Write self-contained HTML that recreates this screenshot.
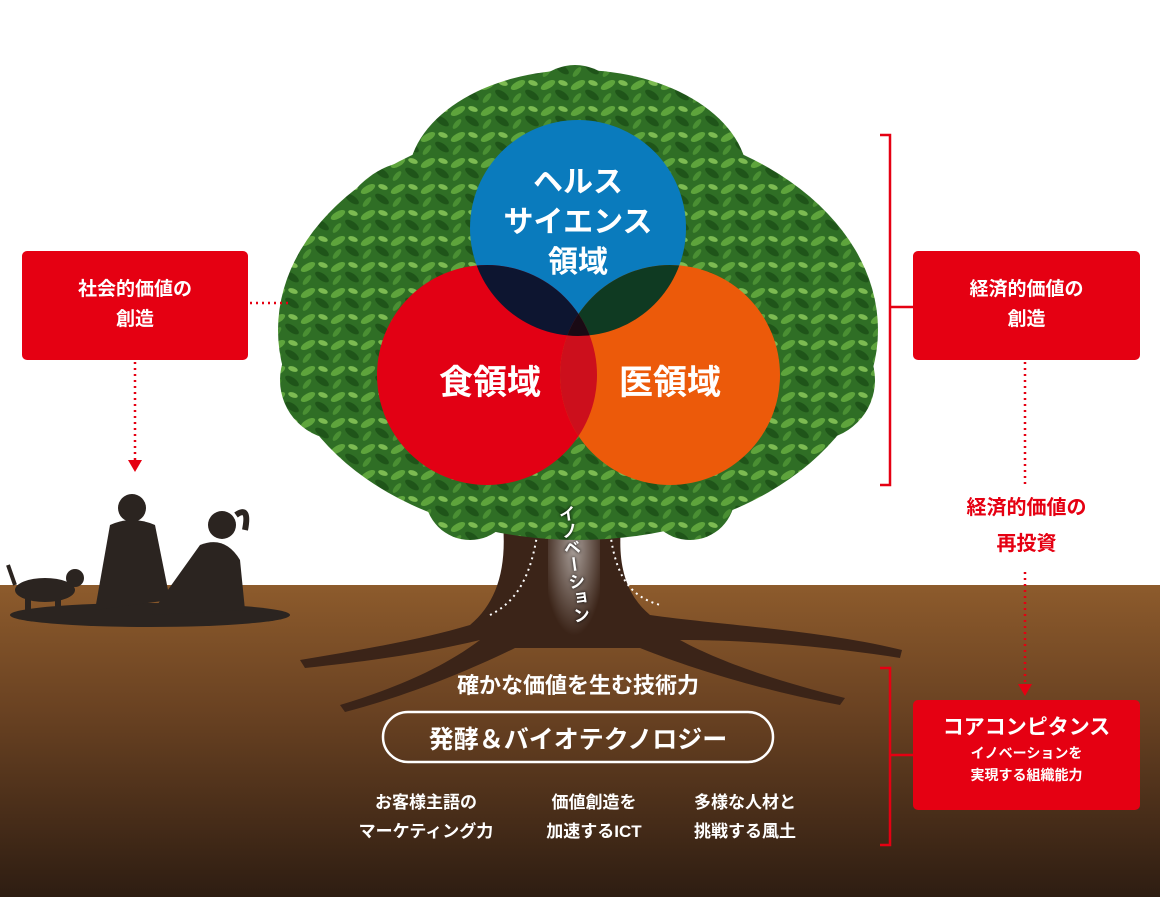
<!DOCTYPE html>
<html><head><meta charset="utf-8"><style>
body{margin:0;width:1160px;height:897px;overflow:hidden;background:#fff;font-family:"Liberation Sans","Noto Sans CJK JP",sans-serif;}
.abs{position:absolute}
.box{position:absolute;background:#e50012;border-radius:5px;color:#fff;font-weight:bold;text-align:center;}
.w{color:#fff;font-weight:bold;text-align:center;position:absolute}
</style></head><body>
<div class="abs" style="left:0;top:0;width:1160px;height:897px">
<svg width="1160" height="897" style="position:absolute;left:0;top:0">
<defs>
<linearGradient id="soil" x1="0" y1="0" x2="0" y2="1">
<stop offset="0" stop-color="#8d5b2c"/><stop offset="0.4" stop-color="#6a4222"/><stop offset="1" stop-color="#2e1d12"/>
</linearGradient>
<radialGradient id="glow" cx="0.5" cy="0.3" r="0.6"><stop offset="0" stop-color="#fff" stop-opacity="0.8"/><stop offset="1" stop-color="#fff" stop-opacity="0"/></radialGradient>
<pattern id="leaves" width="30" height="26" patternUnits="userSpaceOnUse">
<rect width="30" height="26" fill="#2f6e25"/>
<ellipse cx="8" cy="7" rx="8" ry="3.5" fill="#5ea43c" transform="rotate(-30 8 7)"/>
<ellipse cx="22" cy="17" rx="8" ry="3.5" fill="#1f5419" transform="rotate(35 22 17)"/>
<ellipse cx="23" cy="5" rx="5" ry="2.5" fill="#7dbb52" transform="rotate(20 23 5)"/>
<ellipse cx="7" cy="20" rx="6" ry="2.5" fill="#4a8f33" transform="rotate(-50 7 20)"/>
</pattern>
<clipPath id="cb"><circle cx="578" cy="228" r="108"/></clipPath>
<clipPath id="cr"><circle cx="487" cy="375" r="110"/></clipPath>
<clipPath id="co"><circle cx="670" cy="375" r="110"/></clipPath>
</defs>
<rect x="0" y="585" width="1160" height="312" fill="url(#soil)"/>
<path d="M500 500 C510 560 500 600 470 625 C420 640 360 650 300 660 L305 668 C380 660 430 652 480 640 C440 670 390 690 340 705 L345 712 C410 695 470 670 515 648 L640 648 C690 668 760 690 840 705 L845 698 C780 682 720 662 680 640 C740 640 820 645 900 658 L902 650 C820 630 720 625 650 615 C620 590 615 550 625 500 Z" fill="#3b2418"/>
<path d="M548 505 L600 505 L600 650 L548 650 Z" fill="url(#glow)" opacity="0.7"/>
<path d="M540 510 C535 570 520 600 490 615" stroke="#fff" stroke-width="2" stroke-dasharray="2 4" fill="none"/>
<path d="M608 510 C612 570 625 595 660 605" stroke="#fff" stroke-width="2" stroke-dasharray="2 4" fill="none"/>
<polygon points="548,505 541,520 555,520" fill="#fff"/>
<polygon points="604,505 597,520 611,520" fill="#fff"/>
<g fill="url(#leaves)">
<ellipse cx="578" cy="330" rx="300" ry="210"/>
<ellipse cx="578" cy="180" rx="170" ry="110"/>
<circle cx="575" cy="115" r="50"/>
<circle cx="420" cy="245" r="85"/>
<circle cx="730" cy="245" r="85"/>
<circle cx="340" cy="380" r="60"/>
<circle cx="815" cy="380" r="60"/>
<circle cx="470" cy="495" r="45"/>
<circle cx="690" cy="495" r="45"/>
</g>
<circle cx="578" cy="228" r="108" fill="#0a7bbd"/>
<circle cx="487" cy="375" r="110" fill="#e20014"/>
<circle cx="670" cy="375" r="110" fill="#ec5a0a"/>
<g clip-path="url(#cb)"><circle cx="487" cy="375" r="110" fill="#0d1530"/><circle cx="670" cy="375" r="110" fill="#0f3a22"/></g>
<g clip-path="url(#cr)"><circle cx="670" cy="375" r="110" fill="#cc0f1c"/><g clip-path="url(#cb)"><circle cx="670" cy="375" r="110" fill="#1a0a14"/></g></g>
<g fill="#2b2420">
<ellipse cx="150" cy="615" rx="140" ry="12"/>
<circle cx="132" cy="508" r="14"/>
<path d="M110 525 Q132 515 155 525 L170 600 L95 610 Z"/>
<circle cx="222" cy="525" r="14"/>
<path d="M236 515 Q250 505 245 530" stroke="#2b2420" stroke-width="6" fill="none"/>
<path d="M200 545 Q225 535 240 560 L245 610 L150 615 Z"/>
<ellipse cx="45" cy="590" rx="30" ry="12"/>
<circle cx="75" cy="578" r="9"/>
<rect x="25" y="590" width="6" height="25"/><rect x="55" y="590" width="6" height="25"/>
<path d="M15 585 L8 565" stroke="#2b2420" stroke-width="4"/>
</g>
<g stroke="#e50012" stroke-width="2.5" fill="none">
<path d="M880 135 H890 V485 H880"/>
<path d="M890 307 H913"/>
<path d="M880 668 H890 V845 H880"/>
<path d="M890 755 H913"/>
<path d="M250 303 H290" stroke-dasharray="2 4"/>
<path d="M135 362 V462" stroke-dasharray="2 4"/>
<path d="M1025 362 V485" stroke-dasharray="2 4"/>
<path d="M1025 572 V686" stroke-dasharray="2 4"/>
</g>
<polygon points="128,460 142,460 135,472" fill="#e50012"/>
<polygon points="1018,684 1032,684 1025,696" fill="#e50012"/>
<rect x="383" y="712" width="390" height="50" rx="25" fill="none" stroke="#fff" stroke-width="2.5"/>
</svg>
<div class="box" style="left:22px;top:251px;width:226px;height:109px;font-size:19px;line-height:30px;padding-top:24px;box-sizing:border-box">社会的価値の<br>創造</div>
<div class="box" style="left:913px;top:251px;width:227px;height:109px;font-size:19px;line-height:30px;padding-top:24px;box-sizing:border-box">経済的価値の<br>創造</div>
<div class="box" style="left:913px;top:700px;width:227px;height:110px;padding-top:14px;box-sizing:border-box"><div style="font-size:21px;line-height:28px">コアコンピタンス</div><div style="font-size:14px;line-height:22px">イノベーションを<br>実現する組織能力</div></div>
<div class="abs" style="left:913px;top:490px;width:227px;text-align:center;color:#e50012;font-weight:bold;font-size:20px;line-height:36px">経済的価値の<br>再投資</div>
<div class="w" style="left:470px;top:163px;width:216px;font-size:30px;line-height:40px">ヘルス<br>サイエンス<br>領域</div>
<div class="w" style="left:400px;top:355px;width:180px;font-size:34px">食領域</div>
<div class="w" style="left:580px;top:355px;width:180px;font-size:34px">医領域</div>
<div class="w" style="left:560px;top:505px;writing-mode:vertical-rl;font-size:17px;transform:rotate(-8deg);color:#fff;text-shadow:0 0 3px #000">イノベーション</div>
<div class="w" style="left:378px;top:668px;width:400px;font-size:22px">確かな価値を生む技術力</div>
<div class="w" style="left:383px;top:720px;width:390px;font-size:25px">発酵＆バイオテクノロジー</div>
<div class="w" style="left:336px;top:788px;width:180px;font-size:17px;line-height:29px">お客様主語の<br>マーケティング力</div>
<div class="w" style="left:504px;top:788px;width:180px;font-size:17px;line-height:29px">価値創造を<br>加速するICT</div>
<div class="w" style="left:655px;top:788px;width:180px;font-size:17px;line-height:29px">多様な人材と<br>挑戦する風土</div>
</div>
</body></html>
